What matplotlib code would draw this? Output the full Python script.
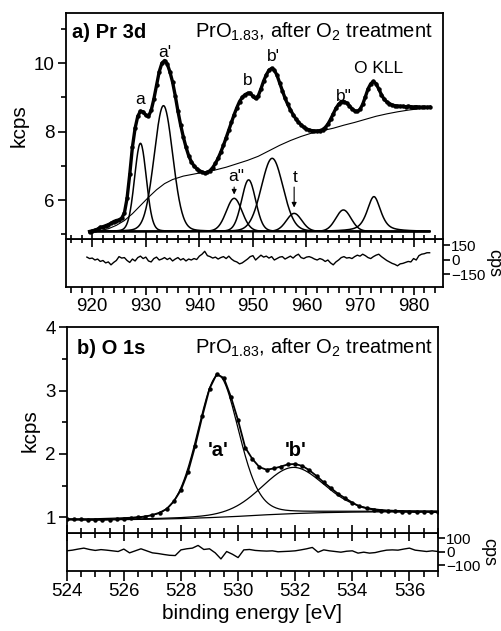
import numpy as np
import matplotlib
matplotlib.use("Agg")
import matplotlib.pyplot as plt
from matplotlib.ticker import MultipleLocator

plt.rcParams['font.family'] = ['Liberation Sans', 'DejaVu Sans']
plt.rcParams['mathtext.fontset'] = 'custom'
plt.rcParams['mathtext.rm'] = 'Liberation Sans'
plt.rcParams['mathtext.it'] = 'Liberation Sans:italic'
plt.rcParams['mathtext.bf'] = 'Liberation Sans:bold'

# ---- a) Pr 3d : measured spectrum (kcps), 0.5 eV steps from 919.5 to 983 eV
pr_energy = np.linspace(919.5, 983.0, 128)
pr_kcps = [
    5.08, 5.10, 5.12, 5.15, 5.20, 5.22, 5.25, 5.28, 5.32, 5.37,
    5.40, 5.42, 5.47, 5.62, 6.05, 6.75, 7.55, 8.10, 8.45, 8.60,
    8.58, 8.48, 8.45, 8.62, 8.95, 9.35, 9.75, 10.00, 10.08, 9.98,
    9.75, 9.45, 9.05, 8.60, 8.20, 7.85, 7.55, 7.30, 7.12, 7.00,
    6.92, 6.86, 6.82, 6.79, 6.81, 6.86, 6.95, 7.07, 7.22, 7.40,
    7.60, 7.82, 8.05, 8.28, 8.50, 8.70, 8.88, 9.00, 9.08, 9.12,
    9.13, 9.03, 8.97, 9.05, 9.25, 9.48, 9.66, 9.80, 9.85, 9.80,
    9.65, 9.42, 9.20, 8.98, 8.80, 8.64, 8.50, 8.38, 8.28, 8.20,
    8.13, 8.08, 8.05, 8.03, 8.02, 8.02, 8.03, 8.06, 8.12, 8.22,
    8.36, 8.52, 8.68, 8.80, 8.87, 8.88, 8.84, 8.76, 8.67, 8.61,
    8.59, 8.65, 8.80, 9.02, 9.25, 9.40, 9.47, 9.40, 9.25, 9.08,
    8.95, 8.87, 8.82, 8.78, 8.76, 8.75, 8.74, 8.74, 8.73, 8.74,
    8.73, 8.72, 8.73, 8.72, 8.71, 8.72, 8.71, 8.72,
]

# Shirley background (kcps)
pr_bg_energy = [919.5, 921, 923, 924.5, 926, 927.5, 929, 930.5, 932, 933.5,
                935, 937, 939, 941, 943, 945, 947, 949, 951, 953,
                955, 957, 959, 961, 963, 965, 967, 969, 971, 973,
                975, 977, 979, 981, 983]
pr_bg_kcps = [5.06, 5.09, 5.16, 5.26, 5.40, 5.60, 5.84, 6.08, 6.30, 6.48,
              6.60, 6.70, 6.76, 6.82, 6.88, 6.96, 7.06, 7.16, 7.28, 7.44,
              7.60, 7.74, 7.86, 7.96, 8.03, 8.10, 8.19, 8.27, 8.36, 8.45,
              8.52, 8.58, 8.63, 8.67, 8.70]

# fitted components (drawn on a flat base)
pr_base = 5.08
pr_center = [929.0, 933.3, 946.5, 949.2, 953.6, 957.7, 966.9, 972.6]
pr_height = [2.58, 3.68, 0.97, 1.51, 2.14, 0.53, 0.63, 1.02]
pr_fwhm = [2.6, 4.1, 3.5, 3.1, 4.8, 3.4, 3.4, 3.0]
pr_lorentz = [0.1, 0.1, 0.1, 0.1, 0.1, 0.1, 0.1, 0.6]

# residual (cps), 0.5 eV steps from 919 to 983 eV
pr_res_energy = np.linspace(919.0, 983.0, 129)
pr_res_cps = [
    25, 10, 15, -5, 5, -20, -10, -35, -25, -55,
    -30, -10, 30, 15, 20, -10, -30, 5, -15, 20,
    35, 10, 25, -15, -25, 10, 25, -5, 5, 20,
    0, 15, -15, 5, 20, -5, 10, -15, 5, -5,
    10, 0, 35, 55, 85, 40, 30, 15, 25, 5,
    20, 30, 10, 35, 5, -15, -25, -45, -35, -15,
    5, 30, 40, -5, 20, 45, 25, 35, 15, 30,
    -5, 10, 25, 30, 5, 20, 35, 15, 40, 55,
    20, 10, 25, 30, 20, 5, -5, 10, 0, -20,
    -5, -35, -55, -25, -5, 20, 30, 15, 20, 10,
    30, 45, 35, 55, 40, 20, 10, 30, 45, 55,
    30, 10, -10, -25, -40, -50, -65, -45, -40, -30,
    -20, -25, 10, -5, 40, 55, 60, 70, 70,
]

# ---- b) O 1s : measured spectrum (kcps), 0.25 eV steps from 524 to 537 eV
o_energy = np.linspace(524.0, 537.0, 53)
o_kcps = [
    0.970, 0.968, 0.964, 0.960, 0.958, 0.960, 0.963, 0.968, 0.975, 0.984,
    0.995, 1.010, 1.035, 1.070, 1.130, 1.250, 1.430, 1.720, 2.130, 2.600,
    3.030, 3.260, 3.200, 2.900, 2.530, 2.100, 1.920, 1.790, 1.750, 1.770,
    1.800, 1.835, 1.840, 1.810, 1.740, 1.650, 1.550, 1.460, 1.370, 1.300,
    1.230, 1.170, 1.140, 1.120, 1.105, 1.095, 1.090, 1.085, 1.085, 1.080,
    1.085, 1.080, 1.080,
]
o_bg_energy = [524, 525, 526, 527, 528, 529, 530, 531, 532, 533, 534, 535, 536, 537]
o_bg_kcps = [0.958, 0.958, 0.962, 0.968, 0.978, 0.993, 1.013, 1.038, 1.058, 1.072,
             1.080, 1.084, 1.086, 1.087]
o_center = [529.3, 531.92]
o_height = [2.24, 0.73]
o_fwhm = [1.7, 2.6]
o_lorentz = [0.2, 0.2]

# residual (cps), 0.2 eV steps
o_res_energy = np.linspace(524.0, 537.0, 66)
o_res_cps = [
    5, 10, 18, 25, 15, 8, 14, 10, 5, 0,
    18, -10, 5, 20, 5, -10, -15, -22, -28, -30,
    12, 20, 25, 45, 15, 20, -10, -55, 0, -20,
    -45, 12, 15, 8, 5, 3, 5, -2, 0, 2,
    5, 12, 20, 30, -5, 12, 5, 0, -5, 2,
    5, -12, -5, -12, -8, 2, 10, 12, 10, 18,
    25, 10, 5, 0, 5, 0,
]


def pvoigt(x, c, h, w, eta):
    t = (2 * (x - c) / w) ** 2
    return h * ((1 - eta) * np.exp(-np.log(2) * t) + eta / (1 + t))


fig = plt.figure(figsize=(5.02, 6.31), dpi=100)

ax_ar = fig.add_axes([0.1315, 0.5452, 0.7510, 0.0760])
ax_a = fig.add_axes([0.1315, 0.6212, 0.7510, 0.3582])
ax_br = fig.add_axes([0.1329, 0.0956, 0.7396, 0.0597])
ax_b = fig.add_axes([0.1329, 0.1553, 0.7396, 0.3260])

for ax in (ax_a, ax_ar, ax_b, ax_br):
    for s in ax.spines.values():
        s.set_linewidth(1.3)
ax_ar.patch.set_visible(False)
ax_br.patch.set_visible(False)

TICK = 13.5
LAB = 15

# ---------- panel a ----------
xa = np.linspace(919.5, 983.0, 700)
for c, h, w, eta in zip(pr_center, pr_height, pr_fwhm, pr_lorentz):
    ax_a.plot(xa, pr_base + pvoigt(xa, c, h, w, eta), color='black', lw=1.1)
ax_a.plot(pr_bg_energy, pr_bg_kcps, color='black', lw=0.8)
ax_a.plot(pr_energy, pr_kcps, color='black', lw=2.4, marker='o', ms=2.2)

ax_a.set_xlim(915.1, 985.5)
ax_a.set_ylim(4.86, 11.47)
ax_a.xaxis.set_major_locator(MultipleLocator(10))
ax_a.xaxis.set_minor_locator(MultipleLocator(2))
ax_a.yaxis.set_major_locator(MultipleLocator(2))
ax_a.yaxis.set_minor_locator(MultipleLocator(1))
ax_a.tick_params(axis='x', which='major', direction='inout', length=11, width=1.2, labelbottom=False)
ax_a.tick_params(axis='x', which='minor', direction='inout', length=6, width=1.2)
ax_a.tick_params(axis='y', which='major', direction='out', length=6, width=1.2, labelsize=TICK, pad=2)
ax_a.tick_params(axis='y', which='minor', direction='out', length=3.5, width=1.2)
ax_a.set_ylabel('kcps', fontsize=LAB, labelpad=4)

ax_a.text(0.016, 0.915, 'a) Pr 3d', transform=ax_a.transAxes, fontsize=14.5,
          fontweight='bold', va='center', ha='left')
ax_a.text(0.973, 0.915, 'PrO$_{1.83}$, after O$_2$ treatment', transform=ax_a.transAxes,
          fontsize=14.5, va='center', ha='right')

PK = 12.5
ax_a.text(929.0, 8.93, 'a', fontsize=PK, ha='center', va='center')
ax_a.text(933.5, 10.32, "a'", fontsize=PK, ha='center', va='center')
ax_a.text(949.0, 9.5, 'b', fontsize=PK, ha='center', va='center')
ax_a.text(953.8, 10.2, "b'", fontsize=PK, ha='center', va='center')
ax_a.text(967.0, 9.03, 'b"', fontsize=PK, ha='center', va='center')
ax_a.text(973.5, 9.85, 'O KLL', fontsize=PK, ha='center', va='center')
ax_a.text(946.8, 6.68, 'a"', fontsize=PK, ha='center', va='center')
ax_a.text(957.8, 6.65, 't', fontsize=PK, ha='center', va='center')
ax_a.annotate('', xy=(946.5, 6.08), xytext=(946.5, 6.46),
              arrowprops=dict(arrowstyle='-|>', color='black', lw=0.8, mutation_scale=7))
ax_a.annotate('', xy=(957.7, 5.70), xytext=(957.7, 6.46),
              arrowprops=dict(arrowstyle='-|>', color='black', lw=0.8, mutation_scale=7))

ax_ar.plot(pr_res_energy, pr_res_cps, color='black', lw=1.0)
ax_ar.set_xlim(915.1, 985.5)
ax_ar.set_ylim(-284, 212)
ax_ar.xaxis.set_major_locator(MultipleLocator(10))
ax_ar.xaxis.set_minor_locator(MultipleLocator(2))
ax_ar.tick_params(axis='x', which='major', direction='out', length=6, width=1.2, labelsize=TICK, pad=2)
ax_ar.tick_params(axis='x', which='minor', direction='out', length=4, width=1.2)
ax_ar.yaxis.tick_right()
ax_ar.set_yticks([-150, 0, 150])
ax_ar.tick_params(axis='y', which='major', direction='out', length=5, width=1.2, labelsize=11, pad=1)
ax_ar.yaxis.set_label_position('right')
ax_ar.set_ylabel('cps', fontsize=13, rotation=270, labelpad=12)

# ---------- panel b ----------
xb = np.linspace(524.0, 537.0, 400)
bg_b = np.interp(xb, o_bg_energy, o_bg_kcps)
for c, h, w, eta in zip(o_center, o_height, o_fwhm, o_lorentz):
    ax_b.plot(xb, bg_b + pvoigt(xb, c, h, w, eta), color='black', lw=0.9)
ax_b.plot(o_bg_energy, o_bg_kcps, color='black', lw=0.9)
ax_b.plot(o_energy, o_kcps, color='black', lw=1.3, marker='o', ms=2.2)

ax_b.set_xlim(524, 537)
ax_b.set_ylim(0.75, 4.0)
ax_b.xaxis.set_major_locator(MultipleLocator(2))
ax_b.xaxis.set_minor_locator(MultipleLocator(0.5))
ax_b.yaxis.set_major_locator(MultipleLocator(1))
ax_b.yaxis.set_minor_locator(MultipleLocator(0.5))
ax_b.tick_params(axis='x', which='major', direction='inout', length=12, width=1.2, labelbottom=False)
ax_b.tick_params(axis='x', which='minor', direction='inout', length=7, width=1.2)
ax_b.tick_params(axis='y', which='major', direction='out', length=6, width=1.2, labelsize=TICK, pad=2)
ax_b.tick_params(axis='y', which='minor', direction='out', length=3.5, width=1.2)
ax_b.set_ylabel('kcps', fontsize=LAB, labelpad=4)

ax_b.text(0.027, 0.898, 'b) O 1s', transform=ax_b.transAxes, fontsize=14.5,
          fontweight='bold', va='center', ha='left')
ax_b.text(0.986, 0.898, 'PrO$_{1.83}$, after O$_2$ treatment', transform=ax_b.transAxes,
          fontsize=14.5, va='center', ha='right')
ax_b.text(529.3, 2.06, "'a'", fontsize=14.5, fontweight='bold', ha='center', va='center')
ax_b.text(532.03, 2.06, "'b'", fontsize=14.5, fontweight='bold', ha='center', va='center')

ax_br.plot(o_res_energy, o_res_cps, color='black', lw=1.0)
ax_br.set_xlim(524, 537)
ax_br.set_ylim(-142, 137)
ax_br.xaxis.set_major_locator(MultipleLocator(2))
ax_br.xaxis.set_minor_locator(MultipleLocator(0.5))
ax_br.tick_params(axis='x', which='major', direction='out', length=7, width=1.2, labelsize=TICK, pad=2)
ax_br.tick_params(axis='x', which='minor', direction='out', length=4, width=1.2)
ax_br.yaxis.tick_right()
ax_br.set_yticks([-100, 0, 100])
ax_br.tick_params(axis='y', which='major', direction='out', length=5, width=1.2, labelsize=11, pad=1)
ax_br.yaxis.set_label_position('right')
ax_br.set_ylabel('cps', fontsize=13, rotation=270, labelpad=12)
ax_br.set_xlabel('binding energy [eV]', fontsize=LAB, labelpad=3)

fig.savefig('out.png', dpi=100)
